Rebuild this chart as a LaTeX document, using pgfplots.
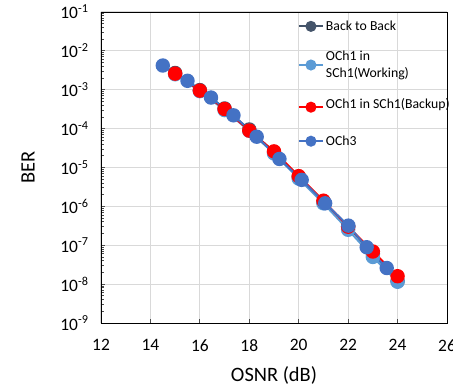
\documentclass[border=0pt]{standalone}
\usepackage{pgfplots}
\pgfplotsset{compat=1.18}
\usepackage{fontspec}
\setmainfont{Carlito}
\definecolor{btb}{HTML}{44546A}
\definecolor{wrk}{HTML}{5B9BD5}
\definecolor{bkp}{HTML}{FF0000}
\definecolor{och}{HTML}{4472C4}
\definecolor{grd}{HTML}{D9D9D9}
\begin{document}
\begin{tikzpicture}
\useasboundingbox (-101bp,-64bp) rectangle (352bp,323bp);
\begin{axis}[
  at={(0,0)}, anchor=south west,
  scale only axis, width=346bp, height=311bp,
  xmin=12, xmax=26, ymin=1e-9, ymax=1e-1,
  ymode=log,
  xtick={12,14,...,26},
  ytick={1e-9,1e-8,1e-7,1e-6,1e-5,1e-4,1e-3,1e-2,1e-1},
  yticklabels={10\textsuperscript{-9},10\textsuperscript{-8},10\textsuperscript{-7},10\textsuperscript{-6},10\textsuperscript{-5},10\textsuperscript{-4},10\textsuperscript{-3},10\textsuperscript{-2},10\textsuperscript{-1}},
  minor ytick={}, 
  /pgf/number format/assume math mode=true,
  tick label style={font=\fontsize{17.5}{20}\selectfont},
  xticklabel style={yshift=-13bp},
  yticklabel style={xshift=-9bp},
  label style={font=\fontsize{20.5}{24}\selectfont},
  xlabel={OSNR (dB)}, ylabel={BER},
  xlabel style={yshift=-8bp},
  ylabel style={yshift=19bp},
  grid=major, major grid style={grd, line width=1bp},
  axis line style={black, line width=0.9bp},
  tick style={color=black!70, line width=0.8bp},
  major tick length=4bp, tick pos=left,
  legend style={draw=none, fill=none, at={(rel axis cs:0.56,0.985)}, anchor=north west,
    font=\fontsize{13.8}{16.3}\selectfont, row sep=15.5bp, cells={align=left}},
  legend cell align=left,
  legend image code/.code={\draw[#1] (0bp,0bp) -- (24bp,0bp); \fill[#1] (12bp,0bp) circle (4.5bp);},
]
\addplot[btb, line width=2bp, mark=*, mark size=6.2bp] coordinates {
(15,2.7e-3) (16,9.8e-4) (17,3.3e-4) (18,9.5e-5) (19,2.5e-5) (20,5.8e-6) (21,1.3e-6) (22,3.0e-7) (23,6.0e-8) (24,1.2e-8)};
\addlegendentry{Back to Back}
\addplot[wrk, line width=2bp, mark=*, mark size=6.2bp] coordinates {
(15,2.5e-3) (16,9.2e-4) (17,3.0e-4) (18,8.8e-5) (19,2.3e-5) (20,5.2e-6) (21,1.2e-6) (22,2.5e-7) (23,5.0e-8) (24,1.15e-8)};
\addlegendentry{OCh1 in\\SCh1(Working)}
\addplot[bkp, line width=2bp, mark=*, mark size=6.2bp] coordinates {
(15,2.6e-3) (16,9.5e-4) (17,3.2e-4) (18,8.9e-5) (19,2.6e-5) (20,6.0e-6) (21,1.4e-6) (22,3.0e-7) (23,6.9e-8) (24,1.6e-8)};
\addlegendentry[text depth=8bp]{OCh1 in SCh1(Backup)}
\addplot[och, line width=2bp, mark=*, mark size=6.2bp] coordinates {
(14.5,4.2e-3) (15.5,1.7e-3) (16.45,6.3e-4) (17.36,2.2e-4) (18.3,6.2e-5) (19.22,1.66e-5) (20.12,4.8e-6) (21.07,1.2e-6) (22.01,3.2e-7) (22.75,8.9e-8) (23.56,2.6e-8)};
\addlegendentry{OCh3}
\end{axis}
\end{tikzpicture}
\end{document}
